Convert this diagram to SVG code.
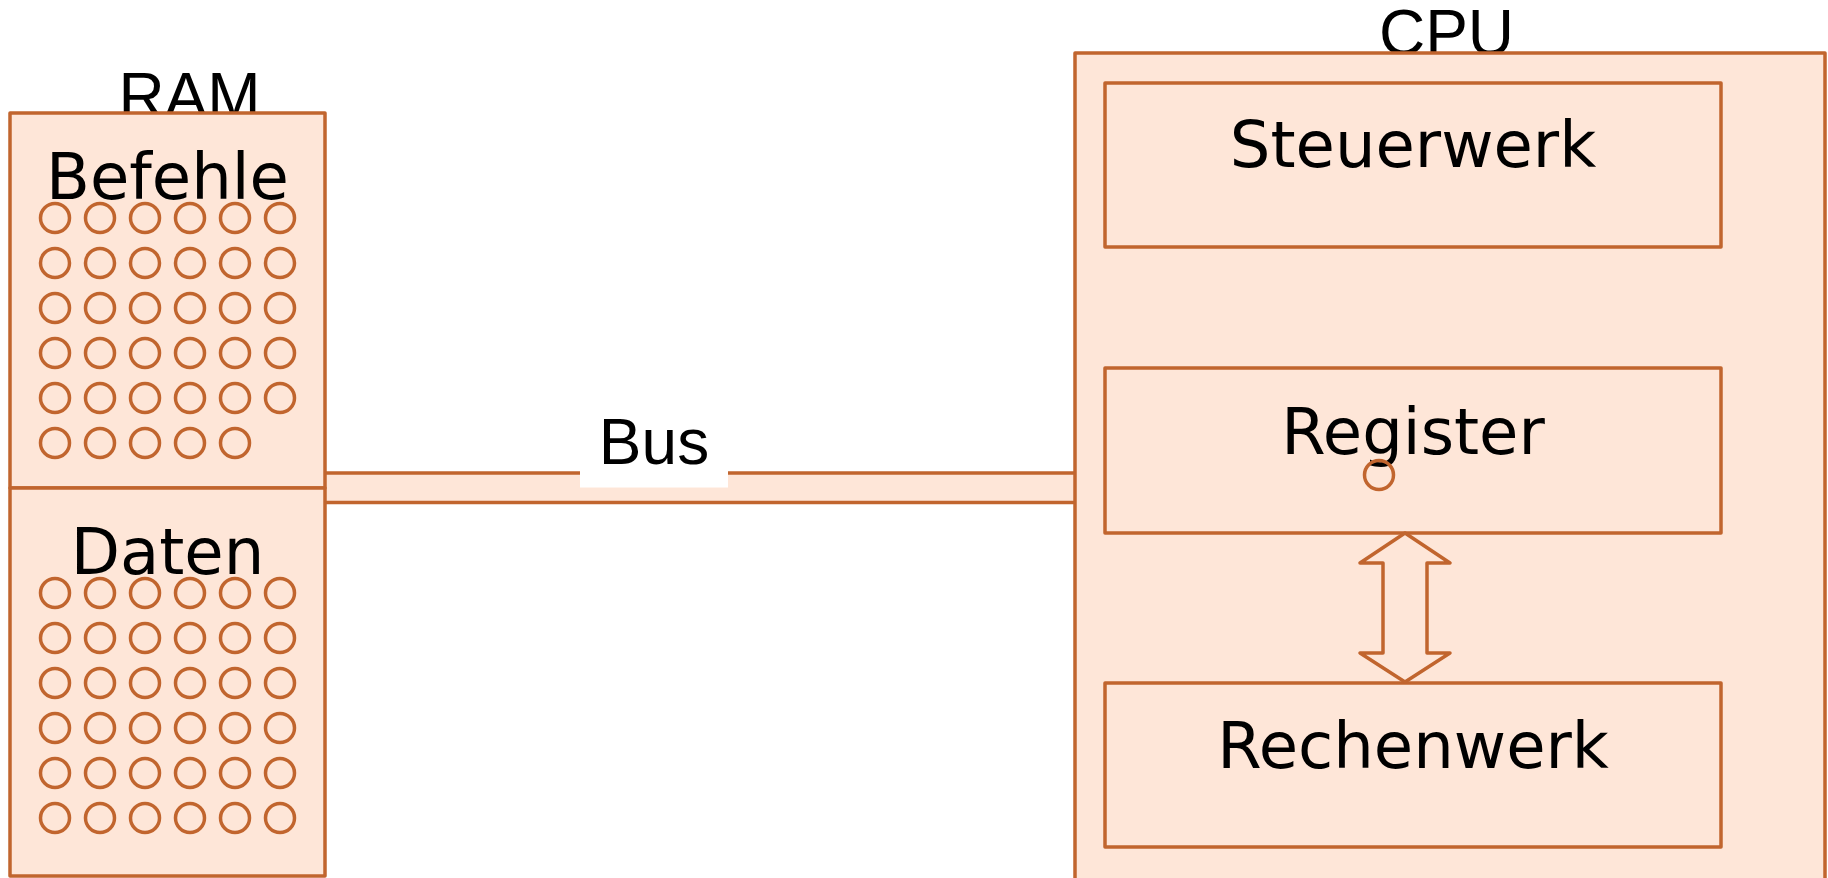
<svg xmlns="http://www.w3.org/2000/svg" width="1828" height="878" viewBox="0 0 1828 878">
<style>
.box{fill:#fee6d8;stroke:#c1652e;stroke-width:3.5;stroke-linejoin:round}
.ln{fill:none;stroke:#c1652e;stroke-width:3.5;stroke-linecap:butt}
.cell{fill:none;stroke:#c1652e;stroke-width:3.5}
.lbl{font-family:"Liberation Sans",Arial,sans-serif;font-size:64px;fill:#000;text-anchor:middle}
.txt{font-family:"DejaVu Sans",sans-serif;font-size:64px;fill:#000;text-anchor:middle}
</style>
<defs>
<g id="row6">
<circle class="cell" cx="55" cy="0" r="14.5"/>
<circle class="cell" cx="100" cy="0" r="14.5"/>
<circle class="cell" cx="145" cy="0" r="14.5"/>
<circle class="cell" cx="190" cy="0" r="14.5"/>
<circle class="cell" cx="235" cy="0" r="14.5"/>
<circle class="cell" cx="280" cy="0" r="14.5"/>
</g>
<g id="row5">
<circle class="cell" cx="55" cy="0" r="14.5"/>
<circle class="cell" cx="100" cy="0" r="14.5"/>
<circle class="cell" cx="145" cy="0" r="14.5"/>
<circle class="cell" cx="190" cy="0" r="14.5"/>
<circle class="cell" cx="235" cy="0" r="14.5"/>
</g>
</defs>
<rect width="1828" height="878" fill="#fff"/>

<g id="connectors">
<g id="bus">
<rect x="325" y="473" width="750" height="29.5" fill="#fee6d8"/>
<line class="ln" x1="325" y1="473" x2="1075" y2="473"/>
<line class="ln" x1="325" y1="502.5" x2="1075" y2="502.5"/>
<rect x="580" y="415" width="148" height="72.5" fill="#fff"/>
<text class="lbl" x="654" y="463.5">Bus</text>
</g>
</g>

<g id="ram">
<text class="lbl" x="189.5" y="118">RAM</text>
<g id="befehle">
<rect class="box" x="10" y="113" width="315" height="375"/>
<text class="txt" x="167.5" y="199">Befehle</text>
<use href="#row6" y="218"/>
<use href="#row6" y="263"/>
<use href="#row6" y="308"/>
<use href="#row6" y="353"/>
<use href="#row6" y="398"/>
<use href="#row5" y="443"/>
</g>
<g id="daten">
<rect class="box" x="10" y="488" width="315" height="388"/>
<text class="txt" x="167.5" y="574">Daten</text>
<use href="#row6" y="593"/>
<use href="#row6" y="638"/>
<use href="#row6" y="683"/>
<use href="#row6" y="728"/>
<use href="#row6" y="773"/>
<use href="#row6" y="818"/>
</g>
</g>

<g id="cpu">
<text class="lbl" x="1446.5" y="55">CPU</text>
<rect class="box" x="1075" y="53" width="750" height="830"/>
</g>

<g id="steuerwerk">
<rect class="box" x="1105" y="83" width="616" height="164"/>
<text class="txt" x="1413" y="167">Steuerwerk</text>
</g>

<g id="register">
<rect class="box" x="1105" y="368" width="616" height="165"/>
<text class="txt" x="1413" y="454">Register</text>
<circle class="cell" cx="1379" cy="475" r="14.5"/>
</g>

<g id="rechenwerk">
<rect class="box" x="1105" y="683" width="616" height="164"/>
<text class="txt" x="1413" y="768">Rechenwerk</text>
</g>

<g id="connectors2">
<polygon class="box" points="1405,533 1450,563 1427,563 1427,653 1450,653 1405,682 1360,653 1383,653 1383,563 1360,563"/>
</g>
</svg>
